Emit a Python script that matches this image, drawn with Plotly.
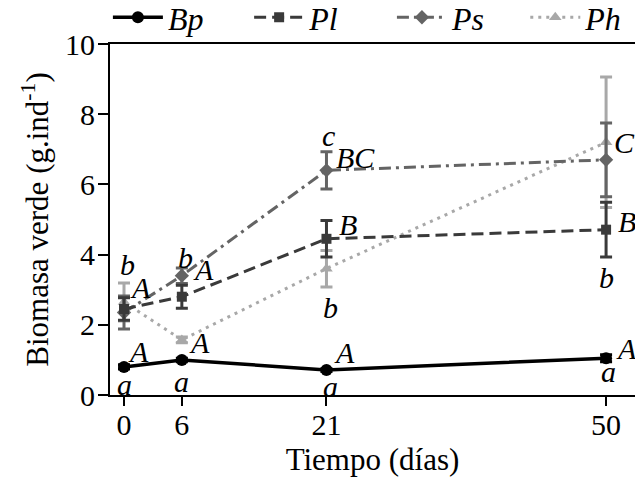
import plotly.graph_objects as go

# Sampling days
days = [0, 6, 21, 50]
tick_labels = ["0", "6", "21", "50"]

# Green biomass (g.ind-1), mean and standard error per species
bp_mean = [0.80, 1.00, 0.71, 1.05]
bp_err = [0.06, 0.05, 0.04, 0.10]
pl_mean = [2.45, 2.80, 4.45, 4.71]
pl_err = [0.32, 0.33, 0.52, 0.78]
ps_mean = [2.35, 3.40, 6.40, 6.70]
ps_err = [0.47, 0.22, 0.53, 1.05]
ph_mean = [2.65, 1.57, 3.60, 7.20]
ph_err = [0.54, 0.08, 0.52, 1.86]

# Significance letters: (series, day index, letter)
letters = [
    ("Ps", 0, "b"), ("Pl", 0, "A"), ("Bp", 0, "A"), ("Bp", 0, "a"),
    ("Ps", 1, "b"), ("Ps", 1, "A"), ("Ph", 1, "A"), ("Bp", 1, "a"),
    ("Ps", 2, "c"), ("Ps", 2, "BC"), ("Pl", 2, "B"), ("Ph", 2, "b"),
    ("Bp", 2, "A"), ("Bp", 2, "a"),
    ("Ph", 3, "C"), ("Pl", 3, "B"), ("Pl", 3, "b"), ("Bp", 3, "A"), ("Bp", 3, "a"),
]
# Pixel offsets of each letter from its point
letter_offsets = [
    (3, 48), (16, 22), (14, 15), (0, -18),
    (4, 18), (22, 6), (18, -3), (0, -22),
    (2, 35), (29, 13), (22, 14), (4, -39),
    (18, 18), (4, -16),
    (18, 0), (21, 8), (0, -48), (20, 10), (2, -13),
]

SERIF = "Liberation Serif"

series = {
    "Bp": dict(mean=bp_mean, err=bp_err, color="#000000", dash="solid",
               symbol="circle", size=12, width=3.5, legend="legend", lx=-0.004),
    "Pl": dict(mean=pl_mean, err=pl_err, color="#3a3a3a", dash="12px,6px",
               symbol="square", size=10, width=3, legend="legend2", lx=0.265),
    "Ps": dict(mean=ps_mean, err=ps_err, color="#646464", dash="12px,5px,3px,5px",
               symbol="diamond", size=11, width=3, legend="legend3", lx=0.537),
    "Ph": dict(mean=ph_mean, err=ph_err, color="#a8a8a8", dash="3px,5px",
               symbol="triangle-up", size=11, width=3, legend="legend4", lx=0.791),
}

fig = go.Figure()
# Lighter series drawn first so darker markers sit on top
for name in ["Ph", "Ps", "Pl", "Bp"]:
    s = series[name]
    fig.add_trace(go.Scatter(
        x=days, y=s["mean"], name=name, mode="lines+markers",
        line=dict(color=s["color"], width=s["width"], dash=s["dash"]),
        marker=dict(symbol=s["symbol"], size=s["size"], color=s["color"]),
        error_y=dict(type="data", array=s["err"], visible=True,
                     color=s["color"], thickness=3, width=6),
        legend=s["legend"], showlegend=True,
    ))

annotations = []
for (name, i, txt), (dx, dy) in zip(letters, letter_offsets):
    annotations.append(dict(
        x=days[i], y=series[name]["mean"][i], xref="x", yref="y",
        text=txt, showarrow=False, xshift=dx, yshift=dy,
        font=dict(family=SERIF, size=30, color="black", style="italic"),
        xanchor="center", yanchor="middle",
    ))

legend_style = dict(
    orientation="h", xanchor="left", y=1.0756, yanchor="middle",
    font=dict(family=SERIF, size=32, color="black", style="italic"),
    itemwidth=50, bgcolor="rgba(0,0,0,0)", borderwidth=0,
)
legends = {}
for name, s in series.items():
    legends[s["legend"]] = dict(legend_style, x=s["lx"])

fig.update_layout(
    width=635, height=481,
    margin=dict(l=110, r=0, t=44, b=86, autoexpand=False),
    paper_bgcolor="white", plot_bgcolor="white",
    font=dict(family=SERIF, size=30, color="black"),
    showlegend=True,
    annotations=annotations,
    xaxis=dict(
        range=[-1.452, 53.0], tickmode="array", tickvals=days, ticktext=tick_labels,
        showgrid=False, zeroline=False, showline=True, linecolor="black", linewidth=2,
        mirror=True, ticks="outside", ticklen=9, tickwidth=2, tickcolor="black",
        tickfont=dict(family=SERIF, size=30), ticklabelstandoff=-7,
        title=dict(text="Tiempo (días)", font=dict(family=SERIF, size=31), standoff=8),
    ),
    yaxis=dict(
        range=[0, 10], tickvals=[0, 2, 4, 6, 8, 10],
        showgrid=False, zeroline=False, showline=True, linecolor="black", linewidth=2,
        ticks="outside", ticklen=10, tickwidth=2, tickcolor="black",
        tickfont=dict(family=SERIF, size=30), ticklabelstandoff=-3,
        title=dict(text="Biomasa verde (g.ind<sup>-1</sup>)",
                   font=dict(family=SERIF, size=31), standoff=7),
    ),
    **legends,
)

fig.write_html("out.html")
